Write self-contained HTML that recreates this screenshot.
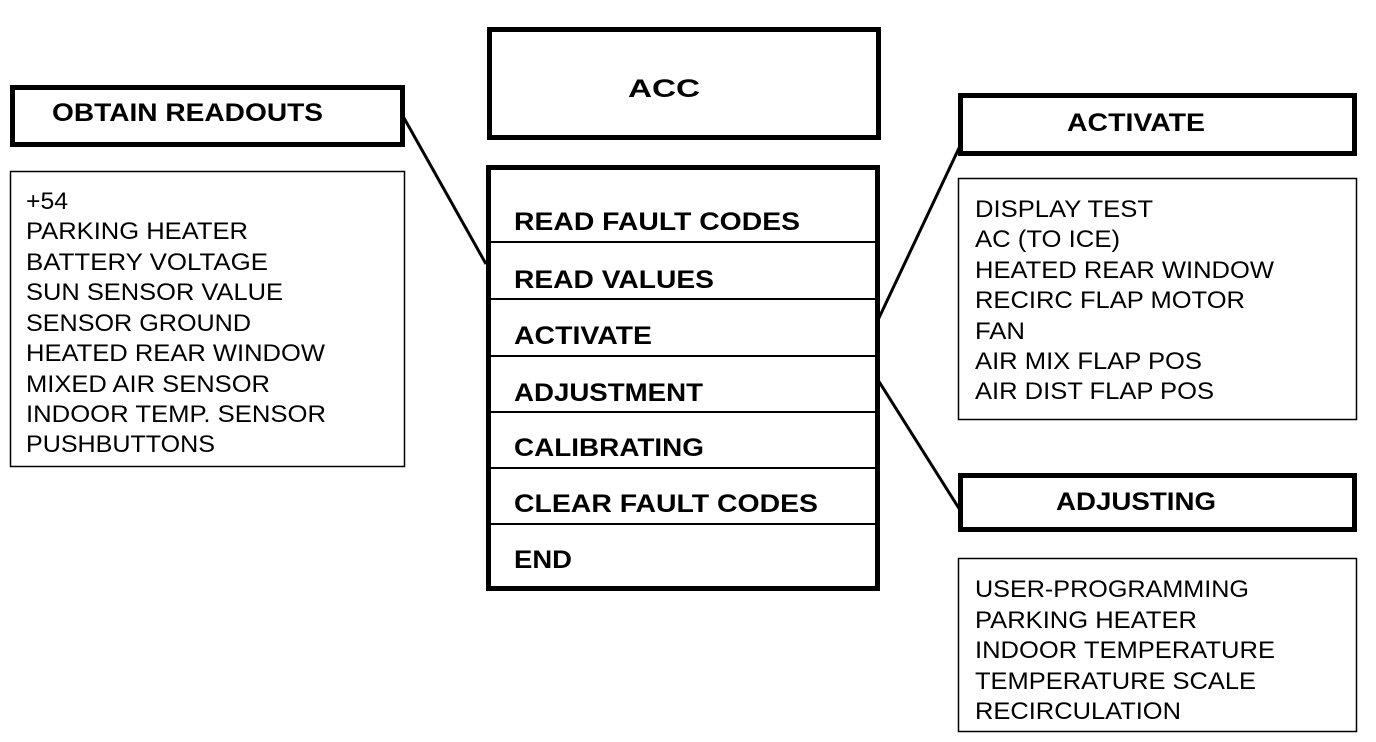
<!DOCTYPE html>
<html><head><meta charset="utf-8"><style>html,body{margin:0;padding:0;background:#fff}svg{display:block}</style></head><body>
<svg width="1376" height="742" viewBox="0 0 1376 742" xmlns="http://www.w3.org/2000/svg" font-family="Liberation Sans, Arial, sans-serif">
<g fill="none" stroke="#000">
<rect x="489.5" y="29.5" width="389" height="108" stroke-width="5"/>
<rect x="488.5" y="167.5" width="389" height="421" stroke-width="5"/>
<g stroke-width="2"><line x1="488" y1="242" x2="878" y2="242"/><line x1="488" y1="299" x2="878" y2="299"/><line x1="488" y1="356" x2="878" y2="356"/><line x1="488" y1="412" x2="878" y2="412"/><line x1="488" y1="468" x2="878" y2="468"/><line x1="488" y1="524" x2="878" y2="524"/></g>
<rect x="12.5" y="87.5" width="390" height="57" stroke-width="5"/>
<rect x="10.5" y="171.5" width="394" height="295" stroke-width="1.5"/>
<rect x="960.5" y="95.5" width="394" height="58" stroke-width="5"/>
<rect x="958.5" y="178.5" width="398" height="241" stroke-width="1.5"/>
<rect x="960.5" y="475.5" width="394" height="54" stroke-width="5"/>
<rect x="958.5" y="558.5" width="398" height="173" stroke-width="1.5"/>
<g stroke-width="3"><line x1="404" y1="118" x2="486" y2="264"/><line x1="960" y1="146" x2="878" y2="320"/><line x1="878" y1="380" x2="960" y2="510"/></g>
</g>
<g font-weight="bold" font-size="25" lengthAdjust="spacingAndGlyphs">
<text x="628" y="97" textLength="72" lengthAdjust="spacingAndGlyphs">ACC</text>
<text x="52" y="121" textLength="271" lengthAdjust="spacingAndGlyphs">OBTAIN READOUTS</text>
<text x="1067" y="131" textLength="138" lengthAdjust="spacingAndGlyphs">ACTIVATE</text>
<text x="1056" y="510" textLength="160" lengthAdjust="spacingAndGlyphs">ADJUSTING</text>
<text x="514" y="230" textLength="286" lengthAdjust="spacingAndGlyphs">READ FAULT CODES</text>
<text x="514" y="288" textLength="200" lengthAdjust="spacingAndGlyphs">READ VALUES</text>
<text x="514" y="344" textLength="138" lengthAdjust="spacingAndGlyphs">ACTIVATE</text>
<text x="514" y="401" textLength="189" lengthAdjust="spacingAndGlyphs">ADJUSTMENT</text>
<text x="514" y="456" textLength="190" lengthAdjust="spacingAndGlyphs">CALIBRATING</text>
<text x="514" y="512" textLength="304" lengthAdjust="spacingAndGlyphs">CLEAR FAULT CODES</text>
<text x="514" y="568" textLength="58" lengthAdjust="spacingAndGlyphs">END</text>
</g>
<g font-size="24">
<text x="26" y="209" textLength="42" lengthAdjust="spacingAndGlyphs">+54</text>
<text x="26" y="239" textLength="222" lengthAdjust="spacingAndGlyphs">PARKING HEATER</text>
<text x="26" y="270" textLength="242" lengthAdjust="spacingAndGlyphs">BATTERY VOLTAGE</text>
<text x="26" y="300" textLength="257" lengthAdjust="spacingAndGlyphs">SUN SENSOR VALUE</text>
<text x="26" y="331" textLength="225" lengthAdjust="spacingAndGlyphs">SENSOR GROUND</text>
<text x="26" y="361" textLength="299" lengthAdjust="spacingAndGlyphs">HEATED REAR WINDOW</text>
<text x="26" y="392" textLength="244" lengthAdjust="spacingAndGlyphs">MIXED AIR SENSOR</text>
<text x="26" y="422" textLength="300" lengthAdjust="spacingAndGlyphs">INDOOR TEMP. SENSOR</text>
<text x="26" y="452" textLength="189" lengthAdjust="spacingAndGlyphs">PUSHBUTTONS</text>
<text x="975" y="217" textLength="178" lengthAdjust="spacingAndGlyphs">DISPLAY TEST</text>
<text x="975" y="247" textLength="145" lengthAdjust="spacingAndGlyphs">AC (TO ICE)</text>
<text x="975" y="278" textLength="299" lengthAdjust="spacingAndGlyphs">HEATED REAR WINDOW</text>
<text x="975" y="308" textLength="270" lengthAdjust="spacingAndGlyphs">RECIRC FLAP MOTOR</text>
<text x="975" y="339" textLength="50" lengthAdjust="spacingAndGlyphs">FAN</text>
<text x="975" y="369" textLength="227" lengthAdjust="spacingAndGlyphs">AIR MIX FLAP POS</text>
<text x="975" y="399" textLength="239" lengthAdjust="spacingAndGlyphs">AIR DIST FLAP POS</text>
<text x="975" y="597" textLength="274" lengthAdjust="spacingAndGlyphs">USER-PROGRAMMING</text>
<text x="975" y="628" textLength="222" lengthAdjust="spacingAndGlyphs">PARKING HEATER</text>
<text x="975" y="658" textLength="300" lengthAdjust="spacingAndGlyphs">INDOOR TEMPERATURE</text>
<text x="975" y="689" textLength="281" lengthAdjust="spacingAndGlyphs">TEMPERATURE SCALE</text>
<text x="975" y="719" textLength="206" lengthAdjust="spacingAndGlyphs">RECIRCULATION</text>
</g>
</svg>
</body></html>
